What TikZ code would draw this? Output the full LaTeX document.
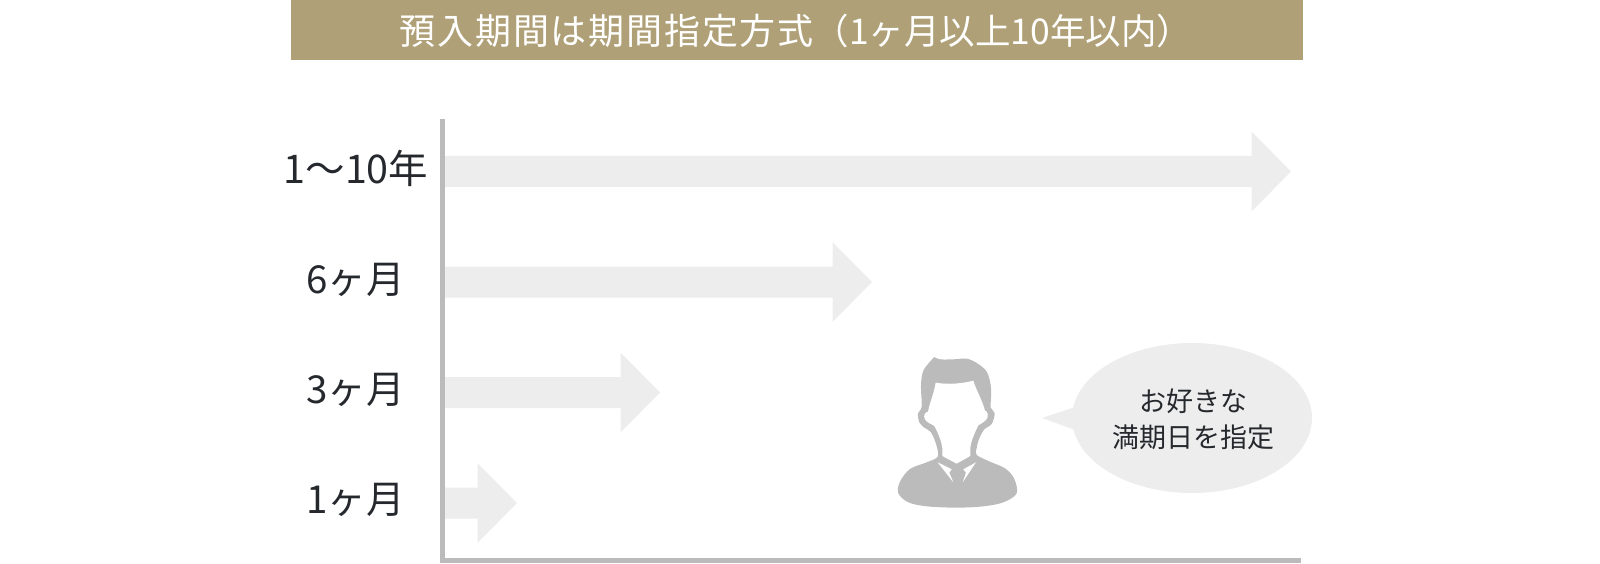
\documentclass[tikz,border=0pt]{standalone}
\usepackage{fontspec}
\setmainfont{Noto Sans CJK JP}
\definecolor{banner}{HTML}{AFA077}
\definecolor{pale}{HTML}{EDEDED}
\definecolor{midgray}{HTML}{BBBBBB}
\definecolor{ink}{HTML}{25282C}
\tikzset{
  x=1pt,y=-1pt,
  rowlabel/.style={inner sep=0pt,text=ink,font=\fontsize{38.5}{41}\selectfont,anchor=center},
  bartext/.style={inner sep=0pt,text=ink,font=\fontsize{27}{29}\selectfont,anchor=center},
  titletext/.style={inner sep=0pt,text=white,anchor=center},
  barshape/.style={fill=pale,draw=none},
  axisline/.style={draw=midgray,line width=5pt,line cap=butt,line join=miter},
  personshape/.style={fill=midgray,draw=none},
  personcut/.style={fill=white,draw=none},
}
\newcommand{\bararrow}[2]{% centre y, tip x
  \fill[barshape] (445,#1-15.5) -- (#2-39.5,#1-15.5) -- (#2-39.5,#1-40) -- (#2,#1) -- (#2-39.5,#1+40) -- (#2-39.5,#1+15.5) -- (445,#1+15.5) -- cycle;}
\begin{document}
\begin{tikzpicture}
\useasboundingbox (0,0) rectangle (1600,564);
\fill[banner] (291,0) rectangle (1303,60);
\node[titletext] (title) at (796,31) {\fontsize{36}{40}\selectfont\addfontfeature{LetterSpace=5}預入期間は期間指定方式\fontsize{35.5}{40}\selectfont\addfontfeature{LetterSpace=0}（1ヶ月以上10年以内）};
\bararrow{171.5}{1291}
\bararrow{282}{872}
\bararrow{392.5}{660}
\bararrow{503}{517}
\draw[axisline] (442.5,119) -- (442.5,560.5) -- (1301,560.5);
\node[rowlabel,font=\fontsize{39.5}{42}\selectfont] (r1) at (356,168) {1〜10年};
\node[rowlabel] (r2) at (355.5,280) {6ヶ月};
\node[rowlabel] (r3) at (355.5,390) {3ヶ月};
\node[rowlabel] (r4) at (355.5,500) {1ヶ月};
% speech bubble
\fill[barshape] (1192,418) ellipse [x radius=120,y radius=75];
\fill[barshape] (1042,418) -- (1075,407) -- (1075,430) -- cycle;
\node[bartext] (b1) at (1193,401) {お好きな};
\node[bartext] (b2) at (1193,437) {満期日を指定};
% person
\begin{scope}[shift={(890,345)},x=0.3333pt,y=-0.3333pt]
\fill[personshape] plot[smooth,tension=.55] coordinates {(133,36) (150,43) (190,43) (230,41) (262,55) (290,80) (302,120) (303,160) (302,188) (314,205) (305,237) (282,254) (266,285) (260,310) (260,330) (300,350) (345,370) (372,400) (380,445) (340,472) (280,484) (200,488) (110,484) (55,472) (25,445) (30,410) (60,372) (110,352) (143,335) (139,300) (123,262) (103,248) (88,232) (84,205) (95,185) (93,120) (101,75) (133,36)} -- cycle;
\fill[personcut] (137,113) .. controls (175,120) and (220,115) .. (250,107) .. controls (258,135) and (275,160) .. (285,197) .. controls (294,198) and (297,215) .. (288,225) .. controls (282,233) and (272,235) .. (265,241) .. controls (255,262) and (242,290) .. (241,310) -- (241,333) -- (200,356) -- (157,333) -- (157,310) .. controls (154,285) and (143,262) .. (133,243) .. controls (123,236) and (110,233) .. (105,223) .. controls (99,212) and (104,202) .. (114,200) .. controls (120,170) and (132,145) .. (137,113) -- cycle;
\fill[personcut] (143,352) -- (185,373) -- (178,383) -- (190,412) -- cycle;
\fill[personcut] (258,352) -- (220,373) -- (228,383) -- (218,412) -- cycle;
\end{scope}
\end{tikzpicture}
\end{document}
